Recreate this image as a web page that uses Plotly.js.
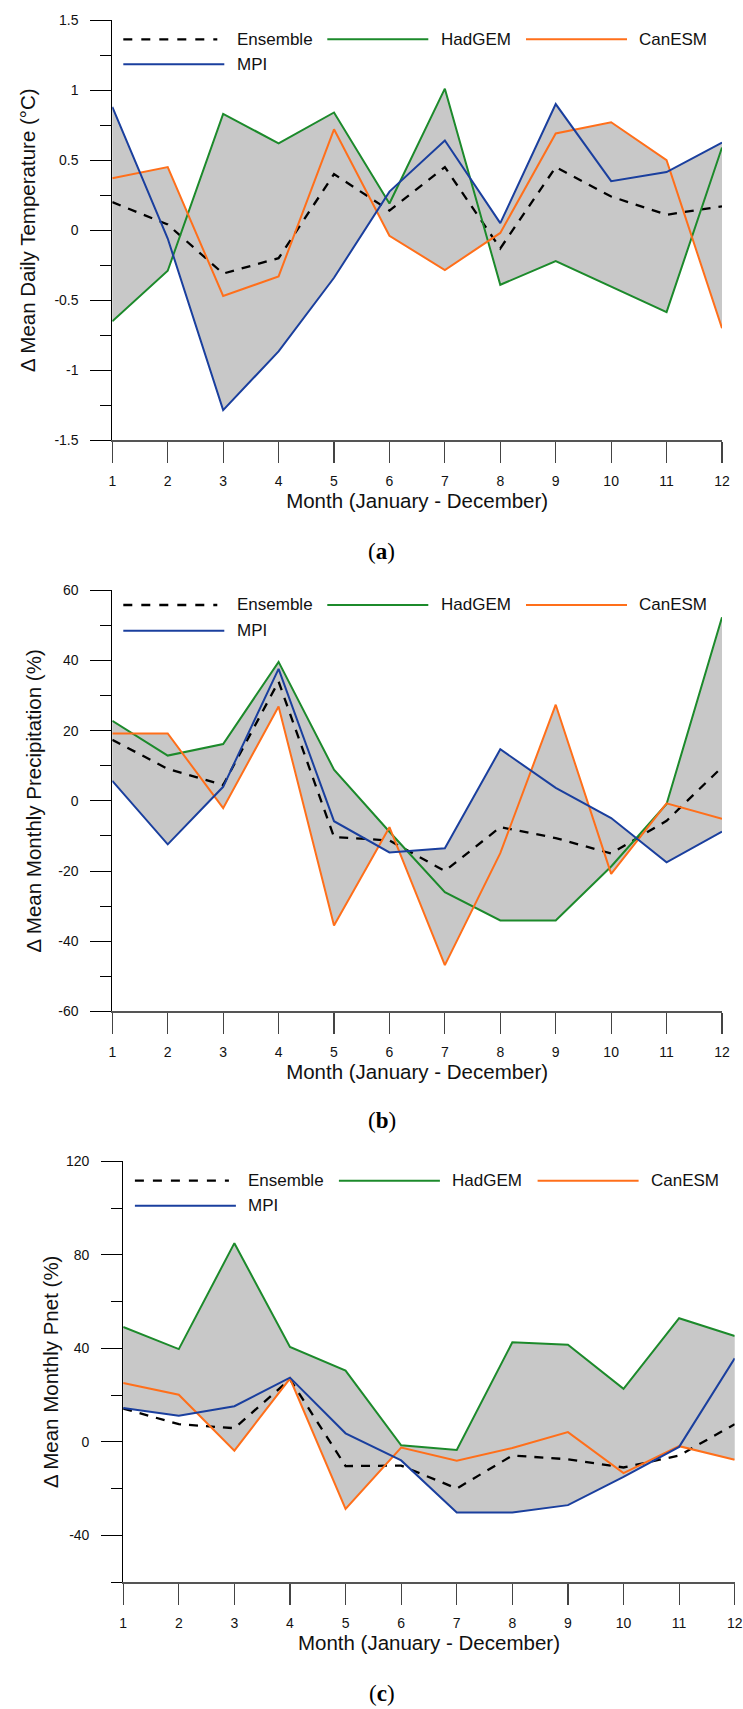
<!DOCTYPE html>
<html>
<head>
<meta charset="utf-8">
<script src="https://cdn.plot.ly/plotly-3.0.1.min.js"></script>
<style>
html, body { margin: 0; padding: 0; background: #ffffff; }
#chart { width: 743px; height: 1709px; }
</style>
</head>
<body>
<div id="chart"></div>
<script>
// ---------------- data ----------------
const months = [1, 2, 3, 4, 5, 6, 7, 8, 9, 10, 11, 12];
const monthLabels = ['1', '2', '3', '4', '5', '6', '7', '8', '9', '10', '11', '12'];
const seriesNames = ['Ensemble', 'HadGEM', 'CanESM', 'MPI'];

// (a) change in mean daily temperature (°C)
const tempEnsemble = [0.20, 0.04, -0.31, -0.20, 0.40, 0.14, 0.45, -0.13, 0.45, 0.24, 0.11, 0.17];
const tempHadGEM   = [-0.65, -0.29, 0.83, 0.62, 0.84, 0.19, 1.01, -0.39, -0.22, -0.40, -0.585, 0.59];
const tempCanESM   = [0.37, 0.45, -0.47, -0.33, 0.72, -0.04, -0.285, -0.02, 0.69, 0.77, 0.50, -0.70];
const tempMPI      = [0.88, -0.06, -1.285, -0.865, -0.34, 0.275, 0.64, 0.05, 0.90, 0.35, 0.415, 0.625];

// (b) change in mean monthly precipitation (%)
const precEnsemble = [17.4, 9.1, 4.5, 34, -10.3, -11.3, -20, -7.5, -10.6, -15, -5.7, 9.6];
const precHadGEM   = [22.8, 12.9, 16.2, 39.6, 8.9, -8.8, -26, -34.1, -34.1, -18.7, -0.9, 52.3];
const precCanESM   = [19.2, 19.2, -2.1, 26.9, -35.5, -7.5, -46.8, -14.9, 27.4, -20.8, -0.7, -5.1];
const precMPI      = [5.7, -12.4, 4.0, 37.6, -5.8, -14.7, -13.5, 14.7, 3.7, -4.9, -17.5, -8.8];

// (c) change in mean monthly Pnet (%)
const pnetEnsemble = [14.3, 7.6, 5.9, 26.8, -10.3, -10.1, -19.9, -5.8, -7.4, -10.9, -5.8, 7.6];
const pnetHadGEM   = [49.2, 39.7, 85, 40.6, 30.5, -1.4, -3.4, 42.6, 41.6, 22.7, 52.9, 45.3];
const pnetCanESM   = [25.2, 20.2, -3.7, 27.1, -28.6, -2.4, -8.0, -2.6, 4.2, -13.3, -1.8, -7.6];
const pnetMPI      = [14.5, 11.2, 15.3, 27.5, 3.7, -7.9, -30.2, -30.2, -27, -14.9, -2.1, 35.8];

// tick labels
const tempTickVals = [-1.5, -1, -0.5, 0, 0.5, 1, 1.5];
const tempTickText = ['-1.5', '-1', '-0.5', '0', '0.5', '1', '1.5'];
const precTickVals = [-60, -40, -20, 0, 20, 40, 60];
const precTickText = ['-60', '-40', '-20', '0', '20', '40', '60'];
const pnetTickVals = [-40, 0, 40, 80, 120];
const pnetTickText = ['-40', '0', '40', '80', '120'];

const xTitle = 'Month (January - December)';
const yTitles = ['\u0394 Mean Daily Temperature (\u00B0C)', '\u0394 Mean Monthly Precipitation (%)', '\u0394 Mean Monthly Pnet (%)'];
const captions = ['a', 'b', 'c'];

// ---------------- styling / layout ----------------
const W = 743, H = 1709;
const FONT = 'Liberation Sans, Arial, Helvetica, sans-serif';
const colors = { Ensemble: '#000000', HadGEM: '#1c8a2b', CanESM: '#ff6f1a', MPI: '#1a3f9e' };
const fillColor = '#c8c8c8';

const panels = [
  { ens: tempEnsemble, had: tempHadGEM, can: tempCanESM, mpi: tempMPI,
    tv: tempTickVals, tt: tempTickText, range: [-1.5, 1.5], minor: 0.25,
    xL: 112.3, xR: 722, yT: 20, yB: 440.3, leg: [19.3, 44.3], legX: 11, cap: 551, ystand: 13 },
  { ens: precEnsemble, had: precHadGEM, can: precCanESM, mpi: precMPI,
    tv: precTickVals, tt: precTickText, range: [-60, 60], minor: 10,
    xL: 112.3, xR: 722, yT: 590.3, yB: 1011.4, leg: [14.7, 40.4], legX: 11, cap: 1120, ystand: 11 },
  { ens: pnetEnsemble, had: pnetHadGEM, can: pnetCanESM, mpi: pnetMPI,
    tv: pnetTickVals, tt: pnetTickText, range: [-60, 120], minor: 20,
    xL: 123.2, xR: 734.7, yT: 1161.3, yB: 1582.3, leg: [19.4, 44.4], legX: 11.7, cap: 1693, ystand: 1 }
];

const px = v => v / W;
const py = v => 1 - v / H;

const data = [];
const shapes = [];
const annotations = [];
const layout = {
  width: W, height: H,
  margin: { l: 0, r: 0, t: 0, b: 0, pad: 0 },
  paper_bgcolor: '#ffffff', plot_bgcolor: 'rgba(0,0,0,0)',
  showlegend: false,
  font: { family: FONT, color: '#111111', size: 14 },
  shapes: shapes, annotations: annotations
};

panels.forEach((p, i) => {
  const n = i === 0 ? '' : String(i + 1);
  const xa = 'x' + n, ya = 'y' + n;

  // grey model spread: the area between every pair of model lines
  // (their union is the band between the highest and lowest model line)
  const models = [p.had, p.can, p.mpi];
  [[0, 1], [0, 2], [1, 2]].forEach(pair => {
    data.push({ x: months, y: models[pair[0]], xaxis: xa, yaxis: ya, mode: 'lines',
      line: { width: 0, color: fillColor }, hoverinfo: 'skip', showlegend: false });
    data.push({ x: months, y: models[pair[1]], xaxis: xa, yaxis: ya, mode: 'lines', fill: 'tonexty',
      fillcolor: fillColor, line: { width: 0, color: fillColor }, hoverinfo: 'skip', showlegend: false });
  });

  const series = { Ensemble: p.ens, HadGEM: p.had, CanESM: p.can, MPI: p.mpi };
  seriesNames.forEach(name => {
    data.push({ x: months, y: series[name], xaxis: xa, yaxis: ya, mode: 'lines', name: name,
      line: name === 'Ensemble' ? { color: colors[name], width: 2.3, dash: '9px,8px' }
                                : { color: colors[name], width: 2 },
      showlegend: false });
  });

  layout['xaxis' + n] = {
    domain: [px(p.xL), px(p.xR)], anchor: ya, range: [1, 12],
    tickmode: 'array', tickvals: months, ticktext: monthLabels,
    ticks: 'outside', ticklen: 21, tickwidth: 1.2, tickcolor: '#444444',
    showline: true, linecolor: '#555555', linewidth: 1.4,
    showgrid: false, zeroline: false, ticklabelstandoff: 6,
    tickfont: { family: FONT, size: 14, color: '#111111' },
    title: { text: xTitle, font: { family: FONT, size: 20.5, color: '#111111' }, standoff: 6 }
  };
  layout['yaxis' + n] = {
    domain: [py(p.yB), py(p.yT)], anchor: xa, range: p.range,
    tickmode: 'array', tickvals: p.tv, ticktext: p.tt,
    ticks: 'outside', ticklen: 21, tickwidth: 1, tickcolor: '#000000',
    minor: { dtick: p.minor, tick0: 0, ticks: 'outside', ticklen: 11, tickwidth: 1, tickcolor: '#000000', showgrid: false },
    showline: true, linecolor: '#000000', linewidth: 1,
    showgrid: false, zeroline: false, ticklabelstandoff: 9,
    tickfont: { family: FONT, size: 14, color: '#111111' },
    title: { text: yTitles[i], font: { family: FONT, size: 20.5, color: '#111111' }, standoff: p.ystand }
  };

  // legend (drawn inside plot area, top-left)
  const cols = [p.legX, p.legX + 204, p.legX + 402.7];
  const items = [
    { name: 'Ensemble', col: 0, row: 0 },
    { name: 'HadGEM', col: 1, row: 0 },
    { name: 'CanESM', col: 2, row: 0 },
    { name: 'MPI', col: 0, row: 1 }
  ];
  items.forEach(it => {
    const x0 = p.xL + cols[it.col];
    const yy = p.yT + p.leg[it.row];
    const isEns = it.name === 'Ensemble';
    shapes.push({ type: 'line', xref: 'paper', yref: 'paper',
      x0: px(x0), x1: px(x0 + (isEns ? 94 : 101)), y0: py(yy), y1: py(yy),
      line: { color: colors[it.name], width: isEns ? 2.3 : 2.1, dash: isEns ? '9px,9px' : 'solid' } });
    annotations.push({ xref: 'paper', yref: 'paper', x: px(x0 + 111.4), y: py(yy),
      xanchor: 'left', yanchor: 'middle', showarrow: false, text: it.name,
      font: { family: FONT, size: 17, color: '#111111' } });
  });

  annotations.push({ xref: 'paper', yref: 'paper', x: px(382), y: py(p.cap),
    xanchor: 'center', yanchor: 'middle', showarrow: false,
    text: '(<b>' + captions[i] + '</b>)',
    font: { family: 'Liberation Serif, Times New Roman, serif', size: 23, color: '#000000' } });
});

Plotly.newPlot('chart', data, layout, { displayModeBar: false, staticPlot: true });
</script>
</body>
</html>
